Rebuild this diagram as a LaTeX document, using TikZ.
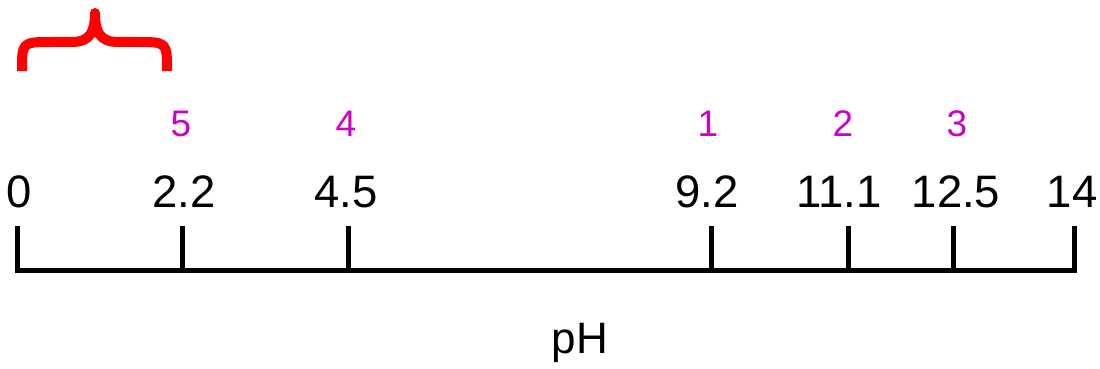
\documentclass[tikz,border=0pt]{standalone}
\usepackage{fontspec}
\setmainfont{Liberation Sans}
\definecolor{labmag}{RGB}{204,0,204}
\begin{document}
\begin{tikzpicture}[x=1pt,y=-1pt,
  axisline/.style={line width=5pt,black},
  valuelabel/.style={anchor=base,inner sep=0pt,font=\fontsize{45.5}{50}\selectfont},
  numlabel/.style={anchor=base,inner sep=0pt,text=labmag,font=\fontsize{37}{40}\selectfont},
  bracestyle/.style={line width=10pt,red,line join=round,line cap=butt}]
\useasboundingbox (0,0) rectangle (1100,369);
% tick coordinates
\foreach \n/\x in {a/17.5,b/182.5,c/348.5,d/711,e/848,f/953.5,g/1074.5}{
  \coordinate (top-\n) at (\x,226);
  \coordinate (bot-\n) at (\x,270.5);
}
% axis
\draw[axisline,line join=miter] (top-a) -- (bot-a) -- (bot-g) -- (top-g);
\foreach \n in {b,c,d,e,f}{\draw[axisline] (top-\n) -- (bot-\n);}
% value labels
\node[valuelabel] (l0) at (19,207) {0};
\node[valuelabel] (l1) at (184,207) {2.2};
\node[valuelabel] (l2) at (346,207) {4.5};
\node[valuelabel] (l3) at (707,207) {9.2};
\node[valuelabel] (l4) at (839,207) {11.1};
\node[valuelabel] (l5) at (956,207) {12.5};
\node[valuelabel] (l6) at (1072,207) {14};
% magenta numbers
\node[numlabel] (m5) at (181,136) {5};
\node[numlabel] (m4) at (346,136) {4};
\node[numlabel] (m1) at (708,136) {1};
\node[numlabel] (m2) at (843,136) {2};
\node[numlabel] (m3) at (957,136) {3};
% axis title
\node[valuelabel,font=\fontsize{44}{48}\selectfont] (ph) at (580,353) {pH};
% brace
\coordinate (bl) at (22,71);
\coordinate (bt) at (95,13);
\coordinate (br) at (167,71);
\draw[bracestyle] (bl) .. controls (22,42) and (22,42) .. (52,42) -- (72,42)
  .. controls (90,42) and (95,32) .. (bt)
  .. controls (95,32) and (100,42) .. (118,42) -- (137,42)
  .. controls (167,42) and (167,42) .. (br);
\end{tikzpicture}
\end{document}
